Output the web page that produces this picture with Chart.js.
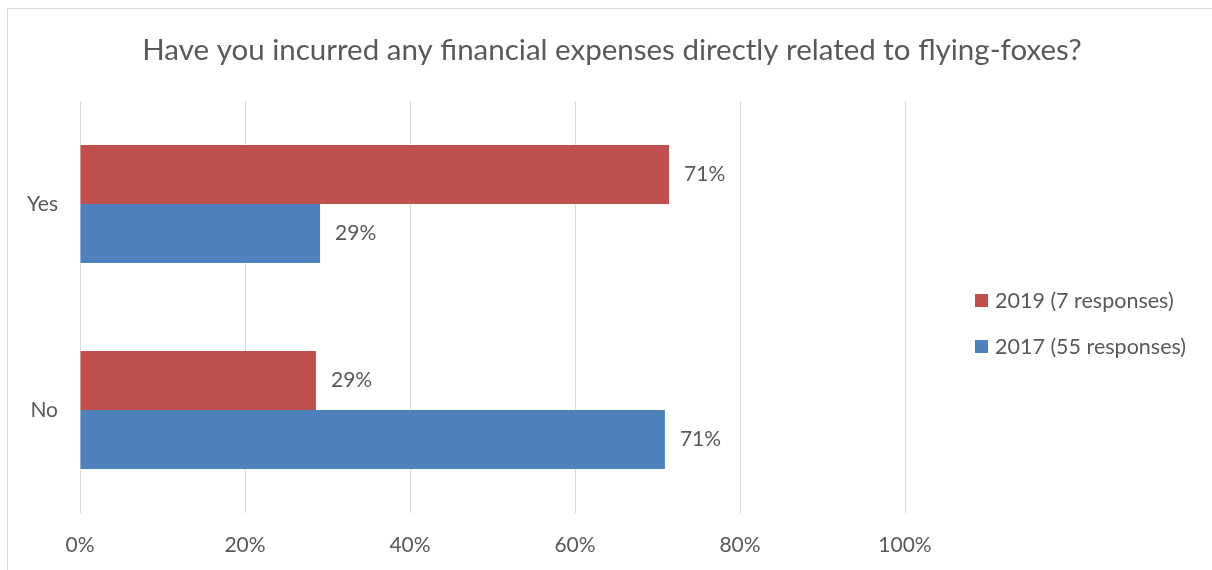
<!DOCTYPE html>
<html>
<head>
<meta charset="utf-8">
<script src="https://cdn.jsdelivr.net/npm/chart.js@4/dist/chart.umd.min.js"></script>
<style>
  html, body { margin: 0; padding: 0; background: #fff; }
  #wrap { width: 1212px; height: 570px; position: relative; }
</style>
</head>
<body>
<div id="wrap"><canvas id="chart"></canvas></div>
<script>
// Survey question chart data
const chartTitle = 'Have you incurred any financial expenses directly related to flying-foxes?';
const categories = ['Yes', 'No'];
const seriesNames = ['2019 (7 responses)', '2017 (55 responses)'];
const values2019 = [0.714, 0.286];
const values2017 = [0.291, 0.709];
const xTicks = [0, 0.2, 0.4, 0.6, 0.8, 1];

const textColor = '#595959';
const fontFamily = 'Lato, "Open Sans", sans-serif';

// Draws the outer frame, the title, bar value labels and the legend
const extrasPlugin = {
  id: 'extras',
  beforeDraw(chart) {
    const ctx = chart.ctx;
    ctx.save();
    ctx.strokeStyle = '#D9D9D9';
    ctx.lineWidth = 1;
    ctx.strokeRect(7.5, 8.5, 1300, 700);
    ctx.restore();
  },
  afterDraw(chart) {
    const ctx = chart.ctx;
    ctx.save();
    ctx.fillStyle = textColor;

    // title
    ctx.font = '29.5px ' + fontFamily;
    ctx.textAlign = 'center';
    ctx.textBaseline = 'middle';
    ctx.fillText(chartTitle, 612, 50);

    // value labels
    ctx.font = '21px ' + fontFamily;
    ctx.textAlign = 'left';
    chart.data.datasets.forEach((ds, i) => {
      const meta = chart.getDatasetMeta(i);
      meta.data.forEach((bar, j) => {
        const label = Math.round(ds.data[j] * 100) + '%';
        ctx.fillText(label, bar.x + 15, bar.y);
      });
    });

    // legend
    ctx.font = '21.5px ' + fontFamily;
    const legendX = 975;
    const legendY = [300, 346];
    chart.data.datasets.forEach((ds, i) => {
      ctx.fillStyle = ds.backgroundColor;
      ctx.fillRect(legendX, legendY[i] - 6, 13, 13);
      ctx.fillStyle = textColor;
      ctx.fillText(ds.label, legendX + 20, legendY[i] + 1);
    });
    ctx.restore();
  }
};

new Chart(document.getElementById('chart'), {
  type: 'bar',
  data: {
    labels: categories,
    datasets: [
      { label: seriesNames[0], data: values2019, backgroundColor: '#C0504D' },
      { label: seriesNames[1], data: values2017, backgroundColor: '#4F81BD' }
    ]
  },
  options: {
    indexAxis: 'y',
    responsive: true,
    maintainAspectRatio: false,
    animation: false,
    categoryPercentage: 0.573,
    barPercentage: 1,
    layout: { padding: { top: 101, right: 307, left: 0, bottom: 0 } },
    plugins: {
      legend: { display: false },
      title: { display: false },
      tooltip: { enabled: false }
    },
    scales: {
      x: {
        min: 0,
        max: 1,
        afterBuildTicks(scale) {
          scale.ticks = xTicks.map(v => ({ value: v }));
        },
        afterFit(scale) { scale.height = 570 - 513; },
        grid: { color: '#D9D9D9', drawTicks: false, lineWidth: 1 },
        border: { display: false },
        ticks: {
          padding: 20,
          color: textColor,
          font: { family: fontFamily, size: 21 },
          callback: v => Math.round(v * 100) + '%'
        }
      },
      y: {
        afterFit(scale) { scale.width = 80; },
        grid: { display: false, drawTicks: false },
        border: { display: false },
        ticks: {
          padding: 22,
          color: textColor,
          font: { family: fontFamily, size: 21 }
        }
      }
    }
  },
  plugins: [extrasPlugin]
});
</script>
</body>
</html>
